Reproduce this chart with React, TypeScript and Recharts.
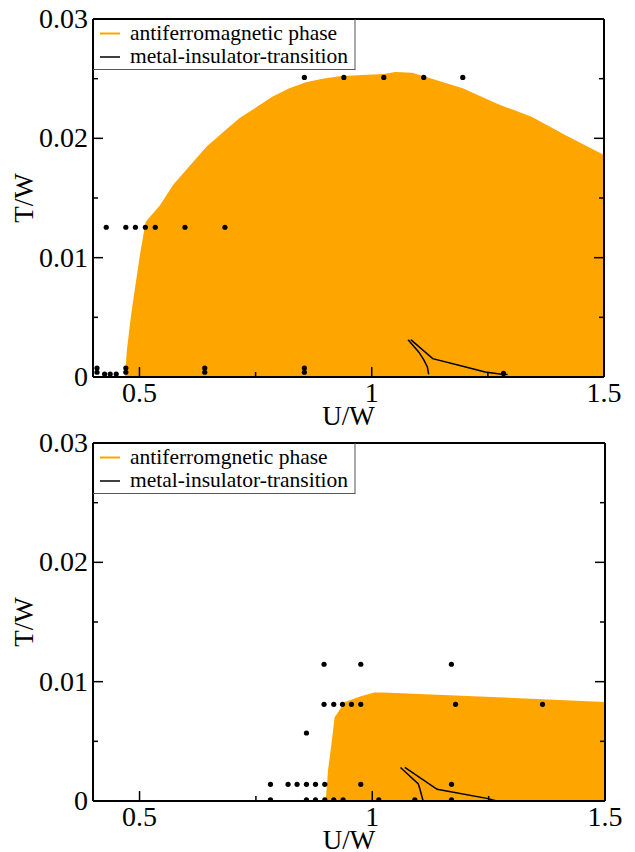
import React from 'react';
import { ComposedChart, Area, Line, Scatter, XAxis, YAxis, Legend, Label } from 'recharts';

type Pt = [number, number];

// upper panel: edge of the antiferromagnetic region (U/W, T/W)
const afmUpper: Pt[] = [
  [0.469, 0], [0.4728, 0.0022], [0.4814, 0.005], [0.4906, 0.0075], [0.5013, 0.0103],
  [0.5135, 0.013], [0.5442, 0.0144], [0.5727, 0.0161], [0.6084, 0.0177], [0.6442, 0.0193],
  [0.6798, 0.0205], [0.7156, 0.0217], [0.7513, 0.0226], [0.7869, 0.0235], [0.8227, 0.0242],
  [0.8584, 0.0247], [0.894, 0.025], [0.93, 0.0252], [0.98, 0.0253], [1.026, 0.0254],
  [1.051, 0.02555], [1.087, 0.0255], [1.112, 0.0252], [1.196, 0.0242], [1.27, 0.0229],
  [1.344, 0.0218], [1.4155, 0.0203], [1.5, 0.0186],
];
const mitUpperA: Pt[] = [[1.0782, 0.00313], [1.1011, 0.0021], [1.1118, 0.00146], [1.1198, 0.00084], [1.1226, 0.00023]];
const mitUpperB: Pt[] = [[1.084, 0.00313], [1.1312, 0.00154], [1.1939, 0.00092], [1.2441, 0.00042], [1.2796, 0.00023], [1.2925, 0.0002]];
const dotsUpper: Pt[] = [
  [0.855, 0.0251], [0.94, 0.0251], [1.026, 0.0251], [1.112, 0.0251], [1.196, 0.0251],
  [0.4285, 0.01255], [0.4707, 0.01255], [0.4913, 0.01255], [0.5127, 0.01255], [0.534, 0.01255],
  [0.598, 0.01255], [0.684, 0.01255],
  [0.4086, 0.00075], [0.4086, 0.0004], [0.425, 0.00025], [0.437, 0.00025], [0.45, 0.00025],
  [0.4707, 0.00075], [0.4707, 0.0004], [0.6406, 0.00075], [0.6406, 0.0004],
  [0.855, 0.00075], [0.855, 0.0004], [1.2836, 0.0003],
];

// lower panel
const afmLower: Pt[] = [
  [0.9, 0], [0.905, 0.0026], [0.913, 0.005], [0.919, 0.007], [0.941, 0.0083],
  [0.977, 0.0088], [1.005, 0.0091], [1.023, 0.0091], [1.5, 0.0083],
];
const mitLowerA: Pt[] = [[1.0606, 0.00281], [1.0985, 0.00146], [1.1021, 0.00104], [1.1092, 0]];
const mitLowerB: Pt[] = [[1.0699, 0.00281], [1.1393, 0.00098], [1.2489, 0.0002], [1.267, 0]];
const dotsLower: Pt[] = [
  [0.8964, 0.01146], [0.9753, 0.01146], [1.17, 0.01146],
  [0.8964, 0.0081], [0.9173, 0.0081], [0.936, 0.0081], [0.9553, 0.0081], [0.9753, 0.0081],
  [1.1789, 0.0081], [1.3658, 0.0081],
  [0.8586, 0.0057],
  [0.7813, 0.0014], [0.8191, 0.0014], [0.8384, 0.0014], [0.8586, 0.0014], [0.878, 0.0014],
  [0.898, 0.0014], [0.9753, 0.0014], [1.1702, 0.0014],
  [0.7813, 0.0001], [0.8586, 0.0001], [0.878, 0.0001], [0.898, 0.0001], [0.9173, 0.0001],
  [0.9373, 0.0001], [1.014, 0.0001], [1.0914, 0.0001], [1.1702, 0.0001],
];

const xTicks = [0.5, 0.75, 1, 1.25, 1.5];
const yTicks = [0, 0.005, 0.01, 0.015, 0.02, 0.025, 0.03];

const ORANGE = '#FFA500';
const SERIF = '"Liberation Serif", "DejaVu Serif", serif';

const rows = (pts: Pt[]) => pts.map(([u, t]) => ({ u, t }));

// grace style: ticks point inward on all four sides, labels only on bottom/left
function renderTick(p: any, side: string) {
  const v = p.payload.value as number;
  const horiz = side === 'bottom' || side === 'top';
  const major = horiz
    ? Math.abs(v * 2 - Math.round(v * 2)) < 1e-6
    : Math.abs(v * 100 - Math.round(v * 100)) < 1e-6;
  const len = major ? 10 : 5;
  const { x, y } = p;
  let line;
  if (side === 'bottom') line = <line x1={x} y1={y} x2={x} y2={y - len} />;
  else if (side === 'top') line = <line x1={x} y1={y} x2={x} y2={y + len} />;
  else if (side === 'left') line = <line x1={x} y1={y} x2={x + len} y2={y} />;
  else line = <line x1={x} y1={y} x2={x - len} y2={y} />;
  return (
    <g>
      <g stroke="#000" strokeWidth={1.5}>{line}</g>
      {major && side === 'bottom' && (
        <text x={x} y={y + 25} textAnchor="middle" fontFamily={SERIF} fontSize={28} fill="#000">
          {String(v)}
        </text>
      )}
      {major && side === 'left' && (
        <text x={x - 5} y={y + 9} textAnchor="end" fontFamily={SERIF} fontSize={28} fill="#000">
          {String(v)}
        </text>
      )}
    </g>
  );
}

const PhaseLegend = ({ first }: { first: string }) => (
  <svg width={263} height={51} style={{ display: 'block' }}>
    <rect x={1} y={1} width={261} height={49} fill="#fff" />
    <line x1={262} y1={0} x2={262} y2={50.5} stroke="#555" strokeWidth={1} />
    <line x1={0} y1={50.5} x2={262.5} y2={50.5} stroke="#555" strokeWidth={1} />
    <line x1={7} y1={14.5} x2={27} y2={14.5} stroke={ORANGE} strokeWidth={2} />
    <text x={37} y={21} fontFamily={SERIF} fontSize={21.5} fill="#000">{first}</text>
    <line x1={7} y1={38} x2={27} y2={38} stroke="#000" strokeWidth={1.5} />
    <text x={37} y={44} fontFamily={SERIF} fontSize={21.5} fill="#000">metal-insulator-transition</text>
  </svg>
);

interface PanelProps {
  afm: Pt[];
  mitA: Pt[];
  mitB: Pt[];
  dots: Pt[];
  legendFirst: string;
  height: number;
  // plot-area edges inside the panel
  box: { top: number; right: number; bottom: number; left: number };
}

const axisLine = { stroke: '#000', strokeWidth: 2 };

const Panel: React.FC<PanelProps> = ({ afm, mitA, mitB, dots, legendFirst, height, box }) => (
  // every axis takes 1px, so the margin is one less than the plot edge
  <ComposedChart
    width={635}
    height={height}
    data={rows(afm)}
    margin={{ top: box.top - 1, right: box.right - 1, bottom: box.bottom - 1, left: box.left - 1 }}
  >
    <Area
      type="linear"
      dataKey="t"
      stroke="none"
      fill={ORANGE}
      fillOpacity={1}
      isAnimationActive={false}
    />
    <Line data={rows(mitA)} type="linear" dataKey="t" stroke="#000" strokeWidth={1.5} dot={false} isAnimationActive={false} />
    <Line data={rows(mitB)} type="linear" dataKey="t" stroke="#000" strokeWidth={1.5} dot={false} isAnimationActive={false} />
    <Scatter
      data={rows(dots)}
      dataKey="t"
      fill="#000"
      isAnimationActive={false}
      shape={(p: any) => <circle cx={p.cx} cy={p.cy} r={2.6} fill="#000" />}
    />
    <XAxis
      dataKey="u"
      type="number"
      domain={[0.4, 1.5]}
      allowDataOverflow
      ticks={xTicks}
      interval={0}
      height={1}
      tickSize={0}
      tickMargin={0}
      tickLine={false}
      axisLine={axisLine}
      tick={(p: any) => renderTick(p, 'bottom')}
    >
      <Label
        content={(p: any) => (
          <text
            x={p.viewBox.x + p.viewBox.width / 2}
            y={p.viewBox.y + 48}
            textAnchor="middle"
            fontFamily={SERIF}
            fontSize={27}
            fill="#000"
          >
            U/W
          </text>
        )}
      />
    </XAxis>
    <XAxis
      xAxisId="top"
      orientation="top"
      type="number"
      domain={[0.4, 1.5]}
      allowDataOverflow
      ticks={xTicks}
      interval={0}
      height={1}
      tickSize={0}
      tickMargin={0}
      tickLine={false}
      axisLine={axisLine}
      tick={(p: any) => renderTick(p, 'top')}
    />
    <YAxis
      dataKey="t"
      type="number"
      domain={[0, 0.03]}
      allowDataOverflow
      ticks={yTicks}
      interval={0}
      width={1}
      tickSize={0}
      tickMargin={0}
      tickLine={false}
      axisLine={axisLine}
      tick={(p: any) => renderTick(p, 'left')}
    >
      <Label
        content={(p: any) => {
          const cx = 33;
          const cy = p.viewBox.y + p.viewBox.height / 2;
          return (
            <text
              x={cx}
              y={cy}
              transform={`rotate(-90 ${cx} ${cy})`}
              textAnchor="middle"
              fontFamily={SERIF}
              fontSize={27}
              fill="#000"
            >
              T/W
            </text>
          );
        }}
      />
    </YAxis>
    <YAxis
      yAxisId="right"
      orientation="right"
      type="number"
      domain={[0, 0.03]}
      allowDataOverflow
      ticks={yTicks}
      interval={0}
      width={1}
      tickSize={0}
      tickMargin={0}
      tickLine={false}
      axisLine={axisLine}
      tick={(p: any) => renderTick(p, 'right')}
    />
    <Legend
      layout="vertical"
      align="center"
      verticalAlign="middle"
      wrapperStyle={{ top: box.top, left: box.left, width: 263, height: 51 }}
      content={() => <PhaseLegend first={legendFirst} />}
    />
  </ComposedChart>
);

export default function App() {
  return (
    <div style={{ position: 'absolute', left: 0, top: 0, width: 635, height: 852, background: '#fff' }}>
      <div style={{ position: 'absolute', left: 0, top: 0 }}>
        <Panel
          afm={afmUpper}
          mitA={mitUpperA}
          mitB={mitUpperB}
          dots={dotsUpper}
          legendFirst="antiferromagnetic phase"
          height={438}
          box={{ top: 19, right: 31, bottom: 61, left: 93 }}
        />
      </div>
      <div style={{ position: 'absolute', left: 0, top: 426 }}>
        <Panel
          afm={afmLower}
          mitA={mitLowerA}
          mitB={mitLowerB}
          dots={dotsLower}
          legendFirst="antiferromgnetic phase"
          height={426}
          box={{ top: 17, right: 30, bottom: 51, left: 93 }}
        />
      </div>
    </div>
  );
}
